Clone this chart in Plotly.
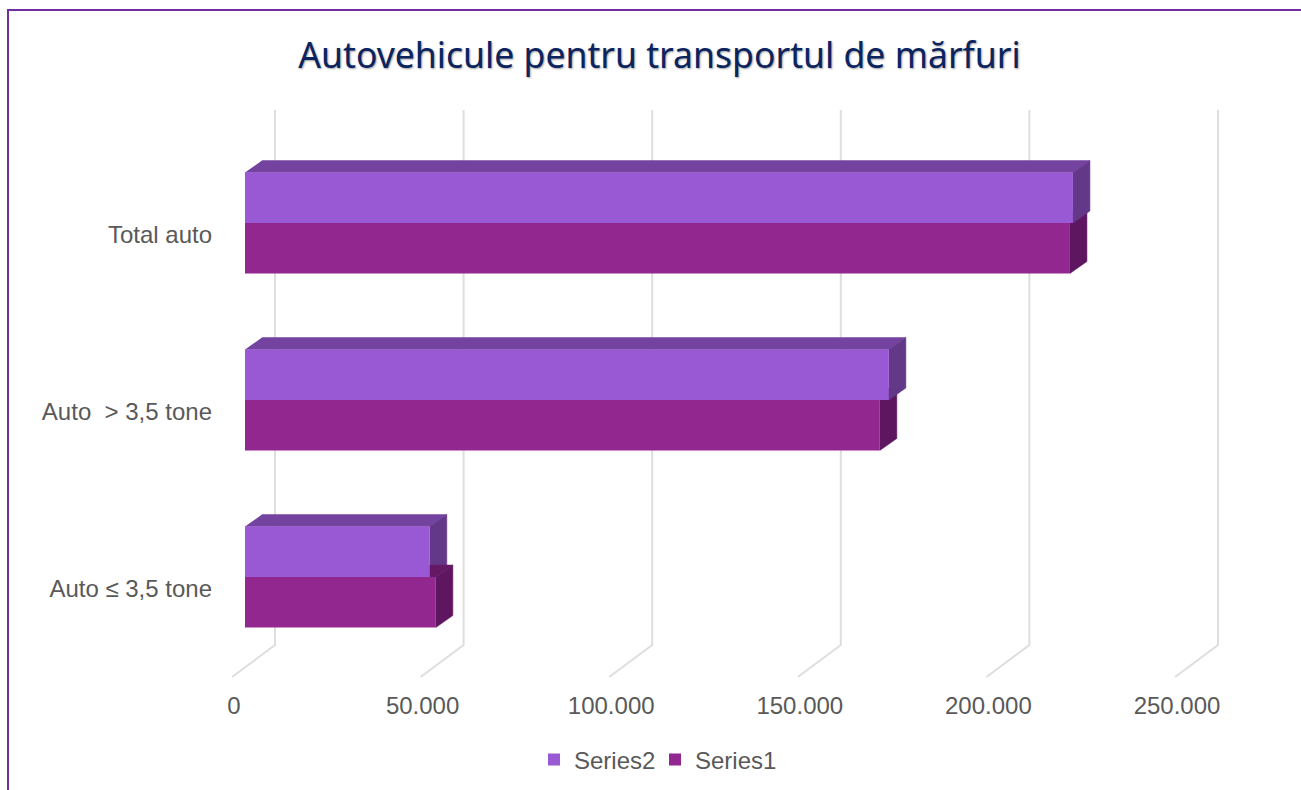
import plotly.graph_objects as go

TITLE = "Autovehicule pentru transportul de mărfuri"
CATEGORIES = ["Auto ≤ 3,5 tone", "Auto  > 3,5 tone", "Total auto"]
SERIES1 = [50600, 168300, 218700]
SERIES2 = [49000, 170700, 219500]
TICKS = [0, 50000, 100000, 150000, 200000, 250000]
TICK_LABELS = ["0", "50.000", "100.000", "150.000", "200.000", "250.000"]

W, H = 1301, 790
C2, C2_TOP, C2_SIDE = "#9958D4", "#74429F", "#643888"
C1, C1_TOP, C1_SIDE = "#92278F", "#641866", "#5E1660"
GRID = "#DEDEDE"
TEXT = "#595959"

# pixel scale of the value axis / category axis
PX_PER_VALUE = 188.6 / 50000
PX_PER_CAT = 177.0
X0_PX, Y0_PX = 245.0, 577.0
L, R, T, B = 220, 1290, 100, 686

x_of = lambda px: (px - X0_PX) / PX_PER_VALUE
y_of = lambda px: (Y0_PX - px) / PX_PER_CAT
dx = lambda px: px / PX_PER_VALUE
dy = lambda px: px / PX_PER_CAT

BAR_H = 50.5 / PX_PER_CAT
DEPTH_X, DEPTH_Y = dx(17), dy(12)

fig = go.Figure()

# floor + wall gridlines (base subplot, below the bars)
for v in TICKS:
    fig.add_trace(go.Scatter(
        x=[v + dx(30), v + dx(30), v - dx(13)],
        y=[y_of(110), y_of(645), y_of(677)],
        mode="lines", line=dict(color=GRID, width=2),
        showlegend=False, hoverinfo="skip"))


def poly(xs, ys, color):
    fig.add_trace(go.Scatter(x=xs, y=ys, mode="lines", fill="toself", fillcolor=color,
                             line=dict(color=color, width=0.5),
                             showlegend=False, hoverinfo="skip"))


def faces(v, y0, y1, top, side):
    poly([0, v, v + DEPTH_X, DEPTH_X], [y1, y1, y1 + DEPTH_Y, y1 + DEPTH_Y], top)
    poly([v, v + DEPTH_X, v + DEPTH_X, v], [y0, y0 + DEPTH_Y, y1 + DEPTH_Y, y1], side)


for i in range(len(CATEGORIES)):
    s1 = (SERIES1[i], i - BAR_H, i, C1_TOP, C1_SIDE)
    s2 = (SERIES2[i], i, i + BAR_H, C2_TOP, C2_SIDE)
    for item in sorted([s1, s2], key=lambda t: t[0]):
        faces(*item)

fig.add_trace(go.Bar(name="Series1", y=list(range(3)), x=SERIES1, orientation="h",
                     marker=dict(color=C1, line=dict(width=0)), xaxis="x2", hoverinfo="x"))
fig.add_trace(go.Bar(name="Series2", y=list(range(3)), x=SERIES2, orientation="h",
                     marker=dict(color=C2, line=dict(width=0)), xaxis="x2", hoverinfo="x"))

xrange = [x_of(L), x_of(R)]
yrange = [y_of(B), y_of(T)]
xdomain = [L / W, R / W]
ydomain = [1 - B / H, 1 - T / H]
font = dict(family="Liberation Sans", size=24, color=TEXT)

fig.update_layout(
    width=W, height=H, margin=dict(l=0, r=0, t=0, b=0, pad=0),
    paper_bgcolor="white", plot_bgcolor="rgba(0,0,0,0)",
    barmode="group", bargap=1 - 2 * BAR_H, bargroupgap=0,
    title=dict(text=TITLE, x=659.5 / W, xanchor="center", y=1 - 56 / H, yanchor="middle", yref="paper",
               font=dict(family="Noto Sans", size=35.6, color="#0B2460",
                         shadow="1px 1px 2px #a0a0a0")),
    xaxis=dict(domain=xdomain, range=xrange, tickmode="array", tickvals=TICKS, ticktext=TICK_LABELS,
               ticklabelshift=-11, showgrid=False, zeroline=False, showline=False, ticks="",
               tickfont=font, ticklabelstandoff=3),
    xaxis2=dict(domain=xdomain, range=xrange, overlaying="x", visible=False),
    yaxis=dict(domain=ydomain, range=yrange, tickmode="array", tickvals=[0, 1, 2], ticktext=CATEGORIES,
               showgrid=False, zeroline=False, showline=False, ticks="", tickfont=font,
               ticklabelshift=12, ticklabelstandoff=7),
    legend=dict(orientation="h", traceorder="reversed", x=534 / W, xanchor="left",
                y=1 - 760 / H, yanchor="middle", font=font, bgcolor="rgba(0,0,0,0)",
                entrywidth=76, entrywidthmode="pixels"),
    shapes=[
        dict(type="line", xref="paper", yref="paper", x0=8 / W, x1=1, y0=1 - 10 / H, y1=1 - 10 / H,
             line=dict(color="#7030A0", width=2), layer="below"),
        dict(type="line", xref="paper", yref="paper", x0=8 / W, x1=8 / W, y0=0, y1=1 - 9 / H,
             line=dict(color="#7030A0", width=2), layer="below"),
    ],
)
fig.write_html("out.html", config={"displayModeBar": False},
               post_script="document.body.style.margin='0';document.documentElement.style.overflow='hidden';")
